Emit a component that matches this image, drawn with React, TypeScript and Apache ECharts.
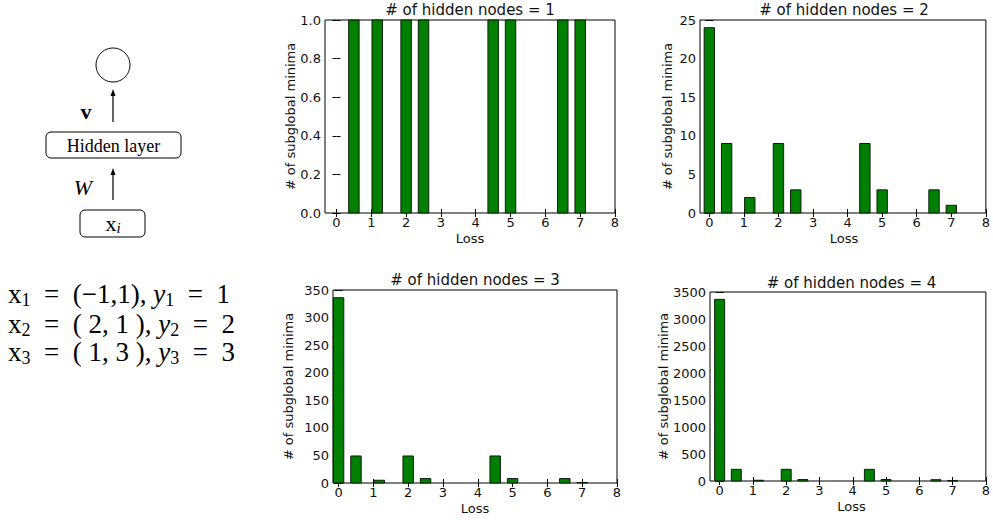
import React, { useEffect, useRef } from "react";
import * as echarts from "echarts";

// ---- data ----
const lossBins = [0, 0.5, 1.17, 2, 2.5, 4.5, 5, 6.5, 7];
const counts1 = [0, 1, 1, 1, 1, 1, 1, 1, 1];
const counts2 = [24, 9, 2, 9, 3, 9, 3, 3, 1];
const counts3 = [336, 49, 5, 49, 8, 49, 8, 8, 1];
const counts4 = [3364, 216, 14, 216, 27, 216, 27, 24, 10];
const titles = [
  "# of hidden nodes = 1",
  "# of hidden nodes = 2",
  "# of hidden nodes = 3",
  "# of hidden nodes = 4",
];
const xTicks = [0, 1, 2, 3, 4, 5, 6, 7, 8];
const yMax = [1, 25, 350, 3500];
const yStep = [0.2, 5, 50, 500];
const xLabel = "Loss";
const yLabel = "# of subglobal minima";
const barWidthUnits = 0.3;

// ---- layout (pixels) ----
const grids = [
  { left: 325, top: 20, width: 290, height: 193, xmin: -0.33 },
  { left: 700, top: 20, width: 288, height: 193, xmin: -0.27 },
  { left: 333, top: 290, width: 284, height: 193, xmin: -0.16 },
  { left: 710, top: 292, width: 283, height: 189, xmin: -0.29 },
];
const titleY = [10, 10, 280, 283];
const lossY = [238, 238, 508, 506];
const yNameX = [290, 667, 288, 663];

const TXT = "#111";
const FONT = "DejaVu Sans";
const SERIF = "Liberation Serif";

export default function App() {
  const ref = useRef<HTMLDivElement>(null);
  useEffect(() => {
    if (!ref.current) return;
    const chart = echarts.init(ref.current, undefined, { renderer: "svg" });
    const allCounts = [counts1, counts2, counts3, counts4];

    const tick = { show: true, inside: true, length: 4, customValues: xTicks, lineStyle: { color: "#000", width: 1 } };
    const xAxis: any[] = [];
    const yAxis: any[] = [];
    const series: any[] = [];
    const graphic: any[] = [];

    grids.forEach((g, i) => {
      xAxis.push({
        type: "value", gridIndex: i, min: g.xmin, max: 8, position: "bottom",
        axisLine: { show: false }, splitLine: { show: false },
        axisTick: tick,
        axisLabel: { customValues: xTicks, color: TXT, fontSize: 13, fontFamily: FONT, margin: 3 },
      });
      xAxis.push({
        type: "value", gridIndex: i, min: g.xmin, max: 8, position: "top",
        axisLine: { show: false }, splitLine: { show: false },
        axisTick: tick, axisLabel: { show: false },
      });
      const ytick = { show: true, inside: true, length: 4, lineStyle: { color: "#000", width: 1 } };
      yAxis.push({
        type: "value", gridIndex: i, min: 0, max: yMax[i], interval: yStep[i], position: "left",
        axisLine: { show: false }, splitLine: { show: false },
        axisTick: ytick,
        axisLabel: {
          color: TXT, fontSize: 13, fontFamily: FONT, margin: 4,
          formatter: (v: number) => (i === 0 ? v.toFixed(1) : String(Math.round(v))),
        },
      });
      yAxis.push({
        type: "value", gridIndex: i, min: 0, max: yMax[i], interval: yStep[i], position: "right",
        axisLine: { show: false }, splitLine: { show: false },
        axisTick: ytick, axisLabel: { show: false },
      });
      const data = lossBins
        .map((x, k) => [x, allCounts[i][k]])
        .filter((d) => d[1] > 0);
      series.push({
        type: "custom",
        xAxisIndex: i * 2,
        yAxisIndex: i * 2,
        data,
        encode: { x: 0, y: 1 },
        clip: false,
        renderItem: (params: any, api: any) => {
          const x = api.value(0);
          const y = api.value(1);
          const p0 = api.coord([x - barWidthUnits / 2, y]);
          const p1 = api.coord([x + barWidthUnits / 2, 0]);
          return {
            type: "rect",
            shape: { x: p0[0], y: p0[1], width: p1[0] - p0[0], height: p1[1] - p0[1] },
            style: { fill: "#008000", stroke: "#0a1f0a", lineWidth: 1 },
          };
        },
      });
      graphic.push({
        type: "text", x: g.left + g.width / 2, y: titleY[i],
        style: { text: titles[i], fill: TXT, font: `15px "${FONT}"`, align: "center", verticalAlign: "middle" },
      });
      graphic.push({
        type: "text", x: g.left + g.width / 2, y: lossY[i],
        style: { text: xLabel, fill: TXT, font: `13px "${FONT}"`, align: "center", verticalAlign: "middle" },
      });
      graphic.push({
        type: "text", x: yNameX[i], y: g.top + g.height / 2, rotation: Math.PI / 2,
        style: { text: yLabel, fill: TXT, font: `13px "${FONT}"`, align: "center", verticalAlign: "middle" },
      });
    });

    // ---- network diagram ----
    const dc = 113;
    graphic.push(
      { type: "circle", shape: { cx: dc, cy: 65, r: 17 }, style: { fill: "none", stroke: "#000", lineWidth: 1 } },
      { type: "line", shape: { x1: dc, y1: 122, x2: dc, y2: 94 }, style: { stroke: "#000", lineWidth: 1.2 } },
      { type: "polygon", shape: { points: [[dc, 89], [dc - 2.5, 96], [dc + 2.5, 96]] }, style: { fill: "#000" } },
      { type: "text", x: 86, y: 111, style: { text: "v", fill: "#000", font: `bold 22px "${SERIF}"`, align: "center", verticalAlign: "middle" } },
      { type: "rect", shape: { x: 46, y: 132, width: 135, height: 26, r: 5 }, style: { fill: "#fff", stroke: "#000", lineWidth: 1 } },
      { type: "text", x: 113.5, y: 145.5, style: { text: "Hidden layer", fill: "#000", font: `18px "${SERIF}"`, align: "center", verticalAlign: "middle" } },
      { type: "line", shape: { x1: dc, y1: 200, x2: dc, y2: 173 }, style: { stroke: "#000", lineWidth: 1.2 } },
      { type: "polygon", shape: { points: [[dc, 168], [dc - 2.5, 175], [dc + 2.5, 175]] }, style: { fill: "#000" } },
      { type: "text", x: 83, y: 187, style: { text: "W", fill: "#000", font: `italic 22px "${SERIF}"`, align: "center", verticalAlign: "middle" } },
      { type: "rect", shape: { x: 80, y: 210, width: 65, height: 27, r: 5 }, style: { fill: "#fff", stroke: "#000", lineWidth: 1 } },
      {
        type: "text", x: 113, y: 223,
        style: {
          text: "{m|x}{s|i}", align: "center", verticalAlign: "middle",
          rich: {
            m: { fontFamily: SERIF, fontSize: 22, fill: "#000", lineHeight: 24 },
            s: { fontFamily: SERIF, fontStyle: "italic", fontSize: 15, fill: "#000", lineHeight: 12, verticalAlign: "bottom" },
          },
        },
      }
    );

    // ---- equations ----
    const eqs = [
      "{m|x}{s|1}{m|  =  (−1,1), }{i|y}{s|1}{m|  =  1}",
      "{m|x}{s|2}{m|  =  ( 2, 1 ), }{i|y}{s|2}{m|  =  2}",
      "{m|x}{s|3}{m|  =  ( 1, 3 ), }{i|y}{s|3}{m|  =  3}",
    ];
    const eqY = [294, 324, 352];
    eqs.forEach((t, k) => {
      graphic.push({
        type: "text", x: 8, y: eqY[k],
        style: {
          text: t, align: "left", verticalAlign: "middle",
          rich: {
            m: { fontFamily: SERIF, fontSize: 27, fill: "#000", lineHeight: 30 },
            i: { fontFamily: SERIF, fontStyle: "italic", fontSize: 27, fill: "#000", lineHeight: 30 },
            s: { fontFamily: SERIF, fontSize: 18, fill: "#000", lineHeight: 16, verticalAlign: "bottom" },
          },
        },
      });
    });

    chart.setOption({
      animation: false,
      backgroundColor: "#fff",
      grid: grids.map((g) => ({
        left: g.left, top: g.top, width: g.width, height: g.height,
        show: true, borderColor: "#000", borderWidth: 1, backgroundColor: "transparent",
      })),
      xAxis,
      yAxis,
      series,
      graphic,
    });
    return () => chart.dispose();
  }, []);
  return (
    <div
      ref={ref}
      style={{ position: "absolute", left: 0, top: 0, width: 993, height: 520 }}
    />
  );
}
